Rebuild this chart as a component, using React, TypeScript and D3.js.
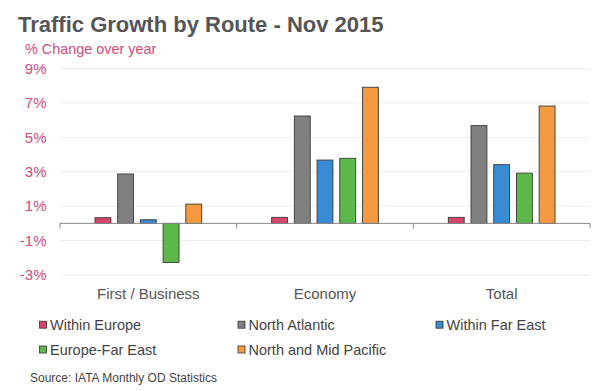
import React from "react";
import * as d3 from "d3";

// chart data
const categories = ["First / Business", "Economy", "Total"];
const seriesNames = ["Within Europe", "North Atlantic", "Within Far East", "Europe-Far East", "North and Mid Pacific"];
const withinEurope = [0.33, 0.35, 0.35];
const northAtlantic = [2.87, 6.24, 5.68];
const withinFarEast = [0.21, 3.68, 3.41];
const europeFarEast = [-2.27, 3.78, 2.92];
const northMidPacific = [1.12, 7.91, 6.82];
const yTicks = [-3, -1, 1, 3, 5, 7, 9];

const seriesValues = [withinEurope, northAtlantic, withinFarEast, europeFarEast, northMidPacific];
const colors = ["#d8456f", "#808080", "#3a8bd6", "#5cb848", "#f3993f"];

const width = 600;
const height = 391;
const left = 60;
const right = 590;
const font = "'Liberation Sans', Arial, Helvetica, sans-serif";
const pink = "#d44a7d";

export default function App() {
  const y = d3.scaleLinear().domain([-3, 9]).range([275, 68.5]);
  const x0 = d3.scaleBand<string>().domain(categories).range([left, right]);
  const x1 = d3
    .scaleBand<string>()
    .domain(seriesNames)
    .range([0, x0.bandwidth()])
    .paddingInner(0.3)
    .paddingOuter(1.54);

  const zero = y(0);
  const bounds = categories.map((c) => x0(c)!).concat([right]);

  // legend layout: 3 columns, 2 rows
  const legendCols = [39.5, 238, 436];
  const legendRows = [324.7, 349.5];

  return (
    <svg
      width={width}
      height={height}
      style={{ position: "absolute", left: 0, top: 0, background: "#fff" }}
      fontFamily={font}
    >
      <text x={18} y={32} fontSize={22} fontWeight="bold" fill="#555">
        Traffic Growth by Route - Nov 2015
      </text>
      <text x={25} y={54.3} fontSize={14.4} fill={pink}>
        % Change over year
      </text>

      {/* grid */}
      {yTicks.map((t) => (
        <g key={t}>
          <line x1={left} x2={right} y1={y(t)} y2={y(t)} stroke="#ececec" strokeWidth={1} />
          <text x={46.5} y={y(t)} dy="0.35em" textAnchor="end" fontSize={15} fill={pink}>
            {t}%
          </text>
        </g>
      ))}

      {/* bars */}
      {categories.map((c, ci) => (
        <g key={c} transform={`translate(${x0(c)},0)`}>
          {seriesNames.map((s, si) => {
            const v = seriesValues[si][ci];
            return (
              <rect
                key={s}
                x={x1(s)}
                y={Math.min(y(v), zero)}
                width={x1.bandwidth()}
                height={Math.abs(y(v) - zero)}
                fill={colors[si]}
                stroke="#3a3a3a"
                strokeWidth={0.9}
              />
            );
          })}
          <text
            x={x0.bandwidth() / 2}
            y={299}
            textAnchor="middle"
            fontSize={15}
            fill="#555"
          >
            {c}
          </text>
        </g>
      ))}

      {/* zero axis */}
      <line x1={left} x2={right} y1={zero} y2={zero} stroke="#888" strokeWidth={1} />
      {bounds.map((b, i) => (
        <line key={i} x1={b} x2={b} y1={zero} y2={zero + 5} stroke="#888" strokeWidth={1} />
      ))}

      {/* legend */}
      {seriesNames.map((s, i) => {
        const cx = legendCols[i % 3];
        const cy = legendRows[Math.floor(i / 3)];
        return (
          <g key={s}>
            <rect x={cx} y={cy - 3.5} width={7} height={7} fill={colors[i]} stroke="#333" strokeWidth={0.8} />
            <text x={cx + 10.5} y={cy} dy="0.35em" fontSize={14.5} fill="#444">
              {s}
            </text>
          </g>
        );
      })}

      <text x={30} y={381.5} fontSize={12} fill="#444">
        Source: IATA Monthly OD Statistics
      </text>
    </svg>
  );
}
